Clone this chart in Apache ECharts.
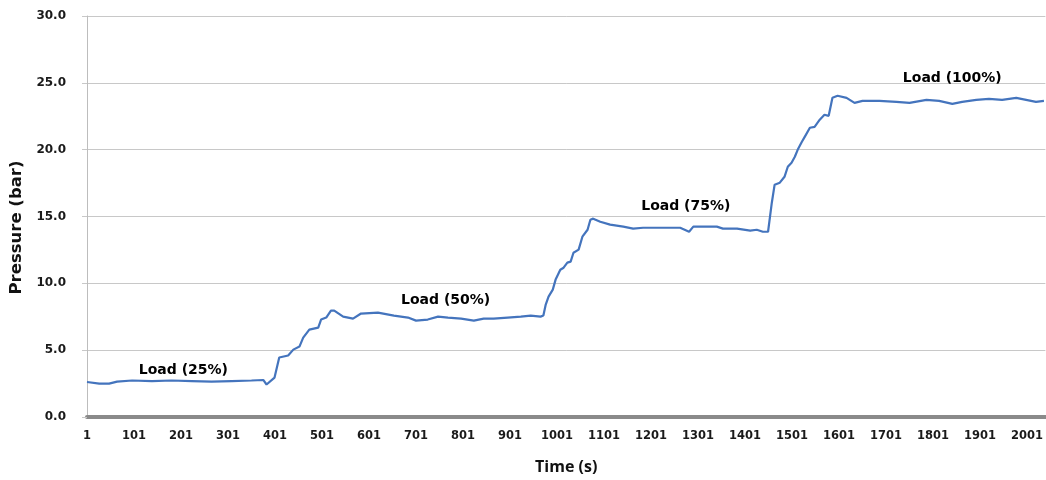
<!DOCTYPE html>
<html>
<head>
<meta charset="utf-8">
<script src="https://cdn.jsdelivr.net/npm/echarts@6/dist/echarts.min.js"></script>
<style>
  html, body { margin: 0; padding: 0; background: #fff; }
  #chart { width: 1046px; height: 480px; }
</style>
</head>
<body>
<div id="chart"></div>
<script>
// time (s) and pressure (bar)
var timeS = [1, 27, 48, 65, 97, 139, 181, 224, 266, 309, 351, 376, 383, 400, 410, 429, 440, 453, 461, 474,
  493, 499, 510, 520, 527, 546, 567, 584, 620, 654, 684, 701, 726, 748, 769, 797, 824, 845, 866, 896,
  924, 945, 966, 972, 977, 983, 992, 998, 1008, 1015, 1023, 1030, 1036, 1047, 1055, 1059, 1066, 1072, 1078, 1093,
  1114, 1142, 1163, 1184, 1214, 1242, 1263, 1282, 1291, 1320, 1341, 1354, 1384, 1412, 1426, 1439, 1450, 1452, 1458, 1464,
  1475, 1485, 1492, 1500, 1507, 1513, 1522, 1528, 1539, 1549, 1560, 1570, 1579, 1587, 1598, 1617, 1634, 1651, 1687, 1723,
  1751, 1787, 1814, 1842, 1863, 1893, 1920, 1948, 1978, 1999, 2020, 2037];
var pressureBar = [2.62, 2.50, 2.50, 2.65, 2.73, 2.69, 2.73, 2.69, 2.65, 2.69, 2.73, 2.77, 2.43, 2.95, 4.45, 4.60, 5.04, 5.27, 5.94, 6.54,
  6.69, 7.29, 7.44, 7.96, 7.96, 7.51, 7.36, 7.74, 7.81, 7.59, 7.44, 7.21, 7.29, 7.51, 7.44, 7.36, 7.21, 7.36, 7.36, 7.44,
  7.51, 7.59, 7.51, 7.59, 8.41, 9.01, 9.53, 10.28, 11.02, 11.17, 11.55, 11.62, 12.29, 12.52, 13.49, 13.41, 14.01, 14.76, 14.84, 14.61,
  14.39, 14.24, 14.09, 14.16, 14.16, 14.16, 14.16, 13.86, 14.24, 14.24, 14.24, 14.09, 14.09, 13.94, 14.01, 13.86, 13.86, 13.79, 16.03, 17.38,
  17.53, 17.97, 18.72, 19.02, 19.47, 19.99, 20.59, 20.96, 21.64, 21.71, 22.24, 22.61, 22.53, 23.88, 24.03, 23.88, 23.50, 23.65, 23.65, 23.58,
  23.50, 23.73, 23.65, 23.43, 23.58, 23.73, 23.80, 23.73, 23.88, 23.73, 23.58, 23.65];

var xTicks = [1, 101, 201, 301, 401, 501, 601, 701, 801, 901, 1001, 1101, 1201, 1301, 1401, 1501, 1601, 1701, 1801, 1901, 2001];

var loadNames = ['Load (25%)', 'Load (50%)', 'Load (75%)', 'Load (100%)'];
var loadX = [206, 764, 1275, 1842];
var loadY = [3.52, 8.75, 15.74, 25.32];

var chart = echarts.init(document.getElementById('chart'));

var lineData = timeS.map(function (t, i) { return [t, pressureBar[i]]; });
var labelData = loadNames.map(function (n, i) { return { name: n, value: [loadX[i], loadY[i]] }; });

var option = {
  animation: false,
  grid: { left: 85, right: 0, top: 16, bottom: 63 },
  xAxis: {
    type: 'value',
    min: 1,
    max: 2040,
    name: 'Time (s)',
    nameLocation: 'middle',
    nameGap: 42,
    nameTextStyle: { fontFamily: 'Open Sans', fontWeight: 'bold', fontSize: 16, color: '#111' },
    axisLine: { show: true, onZero: false, lineStyle: { color: '#8a8a8a', width: 4 } },
    axisTick: { show: false, customValues: xTicks },
    splitLine: { show: false },
    axisLabel: {
      customValues: xTicks,
      margin: 13,
      formatter: function (v) { return String(v); },
      fontFamily: 'DejaVu Sans',
      fontWeight: 'bold',
      fontSize: 11.5,
      color: '#1a1a1a'
    }
  },
  yAxis: {
    type: 'value',
    min: 0,
    max: 30,
    interval: 5,
    name: 'Pressure (bar)',
    nameLocation: 'middle',
    nameGap: 62,
    nameTextStyle: { fontFamily: 'DejaVu Sans', fontWeight: 'bold', fontSize: 16.5, color: '#111', padding: [0, 22, 0, 0] },
    axisLine: { show: true, lineStyle: { color: '#bdbdbd', width: 1 } },
    axisTick: { show: true, length: 5, lineStyle: { color: '#c8c8c8' } },
    splitLine: { show: true, lineStyle: { color: '#c8c8c8', width: 1 } },
    axisLabel: {
      margin: 21,
      formatter: function (v) { return v.toFixed(1); },
      fontFamily: 'DejaVu Sans',
      fontWeight: 'bold',
      fontSize: 12,
      color: '#1a1a1a'
    }
  },
  series: [
    {
      type: 'line',
      data: lineData,
      showSymbol: false,
      lineStyle: { color: '#4474bd', width: 2.2 },
      z: 3
    },
    {
      type: 'scatter',
      data: labelData,
      symbolSize: 0,
      itemStyle: { opacity: 1 },
      label: {
        show: true,
        position: [0, 0],
        align: 'center',
        verticalAlign: 'middle',
        formatter: '{b}',
        fontFamily: 'DejaVu Sans',
        fontWeight: 'bold',
        fontSize: 14,
        color: '#000',
        opacity: 1,
        textBorderWidth: 0
      },
      z: 4
    }
  ]
};

chart.setOption(option);
</script>
</body>
</html>
